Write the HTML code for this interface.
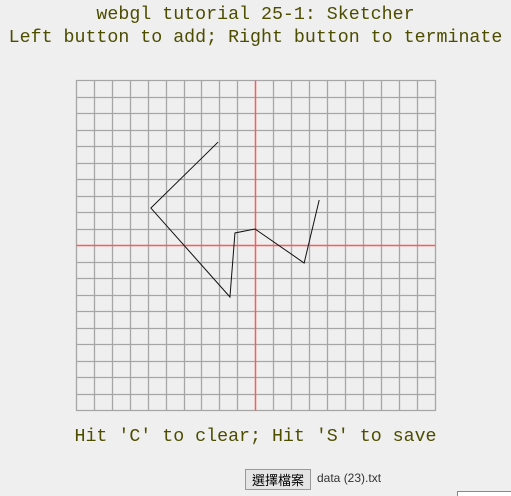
<!DOCTYPE html>
<html><head><meta charset="utf-8"><style>
html,body{margin:0;width:511px;height:496px;background:#efefef;overflow:hidden;position:relative;font-family:"Liberation Mono",monospace;}
.t{position:absolute;left:0;width:511px;text-align:center;color:#4d4d00;font-size:18.3px;white-space:pre;}
#btn{position:absolute;left:245px;top:469px;width:66px;height:21px;border:1px solid #999;background:#e5e5e5;font:13px "Liberation Sans","Noto Sans CJK TC",sans-serif;padding:0;box-sizing:border-box;}
#fn{position:absolute;left:317px;top:471px;font:12px "Liberation Sans",sans-serif;color:#333;}
#box{position:absolute;left:457px;top:491px;width:60px;height:10px;border:1px solid #888;background:#fff;}
</style></head><body>
<div class="t" style="top:5px">webgl tutorial 25-1: Sketcher</div>
<div class="t" style="top:28px">Left button to add; Right button to terminate</div>
<svg id="c" width="511" height="496" style="position:absolute;left:0;top:0"></svg>
<div class="t" style="top:427px">Hit 'C' to clear; Hit 'S' to save</div>
<button id="btn">選擇檔案</button>
<div id="fn">data (23).txt</div>
<div id="box"></div>
<script>
const xs=[-0.21,-0.585,-0.144,-0.116,-0.004,0.27,0.354];
const ys=[0.627,0.227,-0.312,0.076,0.100,-0.106,0.276];
const L=76.5,R=435,T=80.5,B=410.5,N=20;
const sx=v=>(L+R)/2+v*(R-L)/2, sy=v=>(T+B)/2-v*(B-T)/2;
const svg=document.getElementById('c');
const NS='http://www.w3.org/2000/svg';
const r=v=>Math.round(v-0.5)+0.5;
function ln(x1,y1,x2,y2,c,w,n){const e=document.createElementNS(NS,'line');
e.setAttribute('x1',x1);e.setAttribute('y1',y1);e.setAttribute('x2',x2);e.setAttribute('y2',y2);
e.setAttribute('stroke',c);e.setAttribute('stroke-width',w);


svg.appendChild(e);}
for(let i=0;i<=N;i++){if(i===N/2)continue;const x=r(L+i*(R-L)/N),y=r(T+i*(B-T)/N);
ln(x,T-0.5,x,B+0.5,'#a6a6a6',1.3,'grid-vline');ln(L-0.5,y,R+0.5,y,'#a6a6a6',1.3,'grid-hline');}
ln(r(sx(0)),T,r(sx(0)),B,'#ff5a5a',1.5,'y-axis');ln(L,r(sy(0)),R,r(sy(0)),'#ff5a5a',1.5,'x-axis');
const p=document.createElementNS(NS,'polyline');
p.setAttribute('points',xs.map((x,i)=>sx(x)+','+sy(ys[i])).join(' '));
p.setAttribute('fill','none');p.setAttribute('stroke','#111');p.setAttribute('stroke-width',1);


svg.appendChild(p);
</script>
</body></html>
